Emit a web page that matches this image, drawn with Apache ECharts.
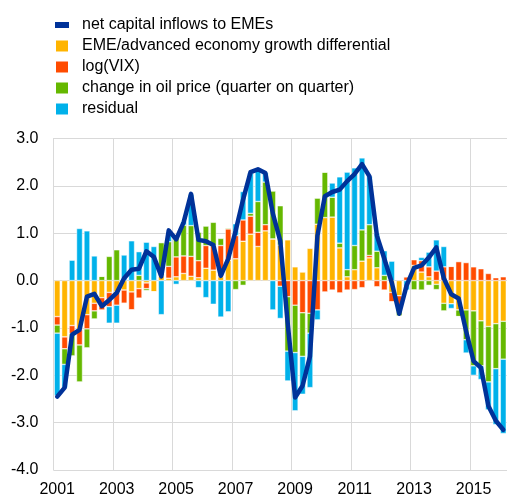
<!DOCTYPE html>
<html>
<head>
<meta charset="utf-8">
<script src="https://cdn.jsdelivr.net/npm/echarts@6/dist/echarts.min.js"></script>
<style>
html,body{margin:0;padding:0;background:#fff;}
#chart{width:507px;height:498px;}
</style>
</head>
<body>
<div id="chart"></div>
<script>
// Quarterly categories 2001Q1 .. 2016Q1
var years = ['2001','2002','2003','2004','2005','2006','2007','2008','2009','2010','2011','2012','2013','2014','2015','2016'];
var quarters = ['Q1','Q2','Q3','Q4'];
var categories = [];
for (var y = 0; y < years.length; y++) {
  for (var q = 0; q < 4; q++) {
    if (years[y] === '2016' && q > 0) break;
    categories.push(years[y] + ' ' + quarters[q]);
  }
}

var yTicks = [-4, -3, -2, -1, 0, 1, 2, 3];

var seriesNames = [
  'net capital inflows to EMEs',
  'EME/advanced economy growth differential',
  'log(VIX)',
  'change in oil price (quarter on quarter)',
  'residual'
];

var netInflows = [
  -2.45,-2.26,-1.14,-1.04, -0.34,-0.28,-0.54,-0.41, -0.26,0.05,0.23,0.25,
  0.62,0.50,0.09,1.06, 0.87,1.23,1.83,0.86, 0.83,0.75,0.10,0.46,
  1.05,1.71,2.29,2.35, 2.27,1.42,0.84,-0.90, -2.47,-2.22,-1.60,0.95,
  1.78,1.87,1.92,2.10, 2.25,2.46,2.20,0.95, 0.46,-0.04,-0.70,-0.10,
  0.27,0.32,0.49,0.70, 0.05,-0.29,-0.38,-1.07, -1.70,-1.84,-2.65,-2.96,
  -3.15
];

var growthDiff = [
  -0.76,-1.19,-0.95,-1.04, -0.72,-0.48,-0.36,-0.25, -0.24,-0.20,-0.24,-0.17,
  -0.05,-0.24,0.10,0.05, 0.08,0.15,0.09,0.06, 0.26,0.22,0.08,0.43,
  0.46,0.83,0.98,0.72, 1.05,0.88,0.75,0.86, 0.29,0.18,0.68,1.19,
  1.33,1.34,0.69,0.08, 0.23,0.41,0.48,0.27, 0,-0.25,-0.32,0,
  0.32,0.18,0.08,-0.08, -0.48,-0.49,-0.62,-0.62, -0.64,-0.85,-0.97,-0.91,
  -0.86
];

var logVix = [
  -0.18,-0.25,-0.17,-0.32, -0.30,-0.16,-0.26,-0.30, -0.28,-0.28,-0.38,-0.20,
  -0.12,0,0,0.25, 0.42,0.37,0.42,0.36, 0.48,0.52,0.66,0.66,
  0.49,0.45,0.38,0.30, 0.13,0,-0.12,-0.34, -0.52,-0.68,-0.69,-0.62,
  -0.24,-0.20,-0.26,-0.20, -0.19,-0.15,0.05,-0.13, -0.20,-0.20,-0.20,0.08,
  0.12,0.24,0.21,0.20, 0.29,0.30,0.40,0.38, 0.29,0.25,0.15,0.06,
  0.08
];

var oilPrice = [
  -0.17,-0.33,-0.47,-0.78, -0.40,-0.17,0.09,0.51, 0.65,0,0,0.11,
  -0.04,0,0.70,0.52, 0.40,0.65,0.65,0.60, 0.41,0.49,0.15,0.02,
  -0.19,-0.10,0.06,0.65, 0.90,1.01,0.83,-1.15, -1.00,-0.92,-0.42,0.55,
  0.96,0.42,0.10,0.15, 0.51,0.66,0.65,0.35, 0.11,0,-0.23,0,
  -0.20,-0.20,-0.10,-0.11, -0.16,0,-0.14,-0.63, -1.16,-0.95,-1.17,-0.95,
  -0.80
];

var residual = [
  -1.32,-0.49,0.43,1.10, 1.05,0.52,0,-0.35, -0.38,0.54,0.84,0.50,
  0.81,0.72,-0.72,0.20, -0.08,0.08,0.66,-0.15, -0.36,-0.50,-0.77,-0.66,
  0.25,0.60,0.85,0.65, 0.20,-0.62,-0.68,-0.63, -1.23,-0.80,-1.15,-0.21,
  0,0.30,1.40,2.06, 1.64,1.52,1.02,0.38, 0.52,0.41,0,-0.20,
  0,0.07,0.31,0.66, 0.43,-0.10,0,-0.28, -0.20,-0.29,-0.59,-1.18,
  -1.57
];

var colors = {
  line: '#003299',
  growth: '#FFB400',
  vix: '#FF4B00',
  oil: '#65B800',
  resid: '#00B1EA'
};

var FONT = "'Liberation Sans', Arial, sans-serif";
var gridColor = '#d9d9d9';

function barSeries(name, data, color) {
  return {
    name: name,
    type: 'bar',
    stack: 'total',
    data: data,
    barCategoryGap: '20%',
    itemStyle: { color: color, borderColor: '#ffffff', borderWidth: 0.5 },
    emphasis: { disabled: true },
    animation: false
  };
}

var chart = echarts.init(document.getElementById('chart'), null, { renderer: 'canvas' });

chart.setOption({
  animation: false,
  textStyle: { fontFamily: FONT },
  legend: {
    orient: 'vertical',
    left: 54,
    top: 17,
    padding: 0,
    itemWidth: 14,
    itemHeight: 13,
    itemGap: 5,
    selectedMode: false,
    textStyle: { fontFamily: FONT, fontSize: 16, color: '#000', padding: [0, 0, 0, 8] },
    data: [
      { name: seriesNames[0], icon: 'path://M0,0h0.01v0.01h-0.01z M0,3.5h14v6h-14z M0,13h0.01v-0.01h-0.01z' },
      { name: seriesNames[1], icon: 'rect' },
      { name: seriesNames[2], icon: 'rect' },
      { name: seriesNames[3], icon: 'rect' },
      { name: seriesNames[4], icon: 'rect' }
    ]
  },
  grid: {
    left: 53.5,
    top: 138.5,
    width: 455.7,
    height: 334.5,
    containLabel: false
  },
  xAxis: {
    type: 'category',
    data: categories,
    boundaryGap: true,
    axisLine: { show: false },
    axisTick: { show: false },
    axisLabel: {
      interval: 7,
      margin: 12,
      fontFamily: FONT,
      fontSize: 16,
      color: '#000',
      formatter: function (v) { return v.split(' ')[0]; }
    },
    splitLine: { show: true, interval: 7, lineStyle: { color: gridColor, width: 1 } }
  },
  yAxis: {
    type: 'value',
    min: yTicks[0],
    max: yTicks[yTicks.length - 1],
    interval: 1,
    axisLine: { show: true, lineStyle: { color: gridColor, width: 1 } },
    axisTick: { show: false },
    axisLabel: {
      margin: 15,
      fontFamily: FONT,
      fontSize: 16,
      color: '#000',
      formatter: function (v) { return v.toFixed(1); }
    },
    splitLine: { show: true, lineStyle: { color: gridColor, width: 1 } }
  },
  series: [
    barSeries(seriesNames[1], growthDiff, colors.growth),
    barSeries(seriesNames[2], logVix, colors.vix),
    barSeries(seriesNames[3], oilPrice, colors.oil),
    barSeries(seriesNames[4], residual, colors.resid),
    {
      name: seriesNames[0],
      type: 'line',
      data: netInflows,
      symbol: 'none',
      z: 10,
      lineStyle: { color: colors.line, width: 4.5, join: 'round', cap: 'round' },
      itemStyle: { color: colors.line },
      emphasis: { disabled: true },
      animation: false
    }
  ]
});
</script>
</body>
</html>
